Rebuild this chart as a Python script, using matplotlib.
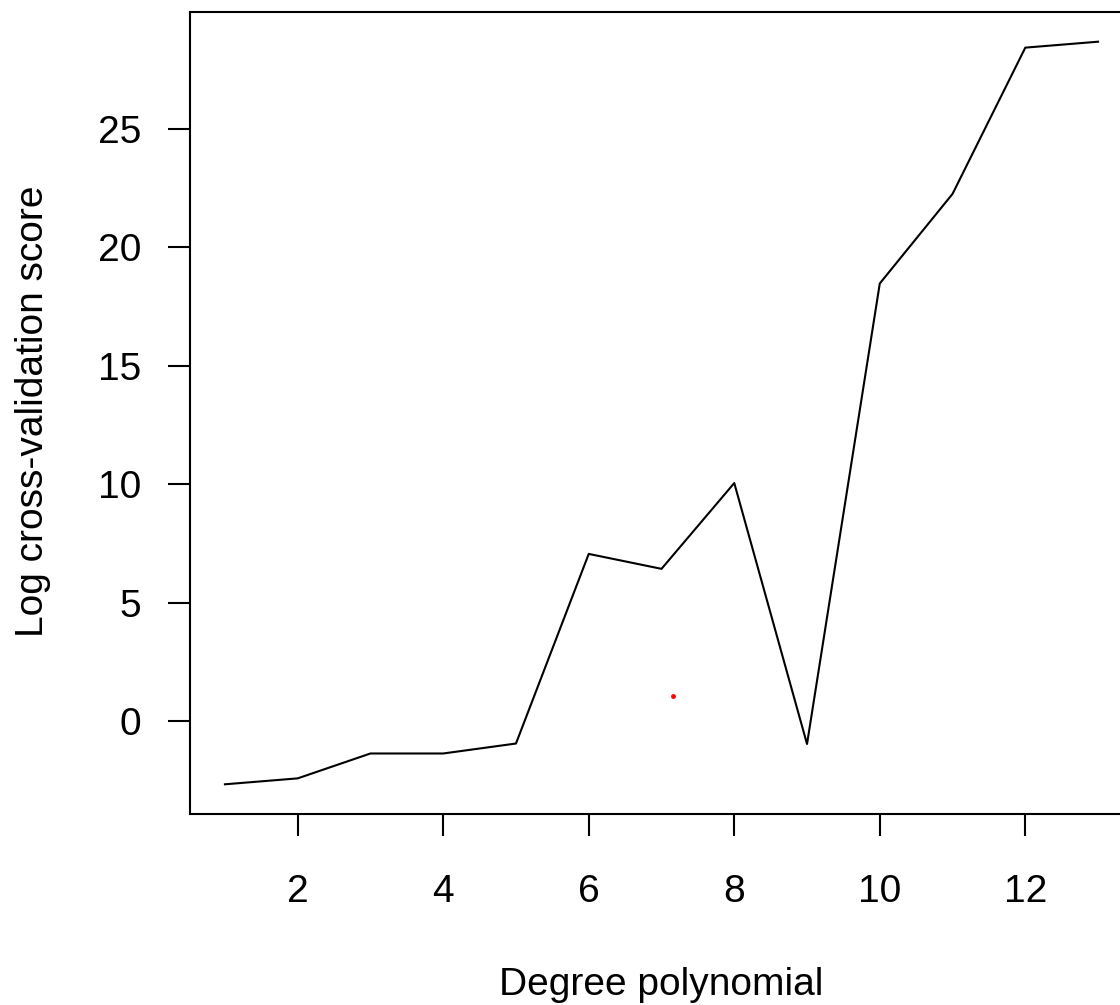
import matplotlib
matplotlib.use("Agg")
import matplotlib.pyplot as plt
import numpy as np

plt.rcParams['font.family'] = ['Liberation Sans', 'DejaVu Sans']

# degree of polynomial vs log cross-validation score
degree = [1, 2, 3, 4, 5, 6, 7, 8, 9, 10, 11, 12, 13]
log_cv = [-2.65, -2.4, -1.35, -1.35, -0.93, 7.07, 6.44, 10.06, -0.95, 18.48, 22.26, 28.43, 28.68]
red_pt_x = [7.16]
red_pt_y = [1.06]
xticks = [2, 4, 6, 8, 10, 12]
yticks = [0, 5, 10, 15, 20, 25]

W, H = 1120, 1005
fig = plt.figure(figsize=(W / 100, H / 100), dpi=100)
# axes box: left 190, right ~1133 (runs past the image edge), top 12, bottom 814
ax = fig.add_axes([190 / W, 1 - 814 / H, (1133 - 190) / W, (814 - 12) / H])

ax.plot(degree, log_cv, color='black', lw=1.5)
ax.plot(red_pt_x, red_pt_y, 'o', color='red', ms=3.5, mec='none')

pad_x = 0.04 * (max(degree) - min(degree))
ax.set_xlim(min(degree) - pad_x, max(degree) + pad_x)
pad_y = 0.04 * (max(log_cv) - min(log_cv))
ax.set_ylim(min(log_cv) - pad_y, max(log_cv) + pad_y)

ax.set_xticks(xticks)
ax.set_yticks(yticks)
ax.tick_params(axis='both', length=16, width=1.5, labelsize=28, color='black')
ax.tick_params(axis='x', pad=27)
ax.tick_params(axis='y', pad=19)
for s in ax.spines.values():
    s.set_linewidth(1.5)

fig.text(661 / W, 1 - 985 / H, 'Degree polynomial', fontsize=28, ha='center', va='center')
fig.text(33 / W, 1 - 411 / H, 'Log cross-validation score', fontsize=28,
         ha='center', va='center', rotation=90)

fig.savefig('out.png', dpi=100)
